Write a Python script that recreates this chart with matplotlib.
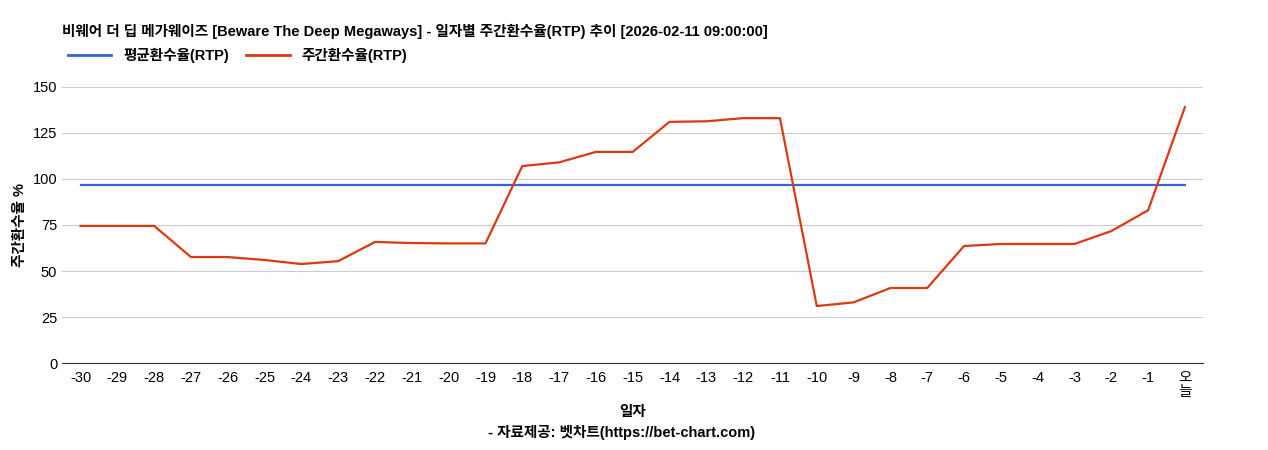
import matplotlib
matplotlib.use("Agg")
import matplotlib.pyplot as plt
from matplotlib.lines import Line2D

plt.rcParams['font.family'] = ['Liberation Sans', 'Noto Sans CJK KR', 'DejaVu Sans']

days = list(range(-30, 1))
tick_labels = [str(d) for d in range(-30, 0)] + ["오\n늘"]
weekly_rtp = [74.5, 74.5, 74.5, 57.6, 57.6, 56.0, 53.8, 55.4, 65.8, 65.2,
              65.0, 65.0, 107.0, 109.0, 114.7, 114.7, 131.0, 131.3, 133.0, 133.0,
              31.0, 33.0, 40.8, 40.8, 63.6, 64.7, 64.7, 64.7, 71.7, 83.0, 139.0]
avg_rtp = 96.7

BLUE = "#3366cc"
RED = "#dc3912"

fig = plt.figure(figsize=(12.68, 4.5), dpi=100)
ax = fig.add_axes([0.049, 0.193, 0.900, 0.614])

ax.plot(days, [avg_rtp] * len(days), color=BLUE, linewidth=1.6)
ax.plot(days, weekly_rtp, color=RED, linewidth=1.6)

ax.set_xlim(-30.5, 0.5)
ax.set_ylim(0, 150)
ax.set_yticks([0, 25, 50, 75, 100, 125, 150])
ax.set_xticks(days)
ax.set_xticklabels(tick_labels, fontsize=10.5, va="top", linespacing=1.0)
ax.tick_params(axis="y", labelsize=10.5, length=0)
ax.tick_params(axis="x", length=0, pad=6)
ax.grid(axis="y", color="#cccccc", linewidth=0.8)
ax.set_axisbelow(True)
for s in ["top", "right", "left"]:
    ax.spines[s].set_visible(False)
ax.spines["bottom"].set_color("#333333")

ax.set_ylabel("주간환수율 %", fontsize=10.5, fontweight="bold")
ax.set_xlabel("일자", fontsize=10.5, fontweight="bold", labelpad=4)
fig.text(0.49, 0.029, "- 자료제공: 벳차트(https://bet-chart.com)", ha="center",
         fontsize=10.5, fontweight="bold")

fig.text(0.049, 0.93, "비웨어 더 딥 메가웨이즈 [Beware The Deep Megaways] - 일자별 주간환수율(RTP) 추이 [2026-02-11 09:00:00]",
         fontsize=10.5, fontweight="bold", va="center")

handles = [Line2D([], [], color=BLUE, linewidth=2), Line2D([], [], color=RED, linewidth=2)]
fig.legend(handles, ["평균환수율(RTP)", "주간환수율(RTP)"], loc="center left",
           bbox_to_anchor=(0.043, 0.877), ncol=2, frameon=False,
           prop={"weight": "bold", "size": 10.5}, handlelength=3, columnspacing=1.2)

fig.savefig("out.png", dpi=100)
